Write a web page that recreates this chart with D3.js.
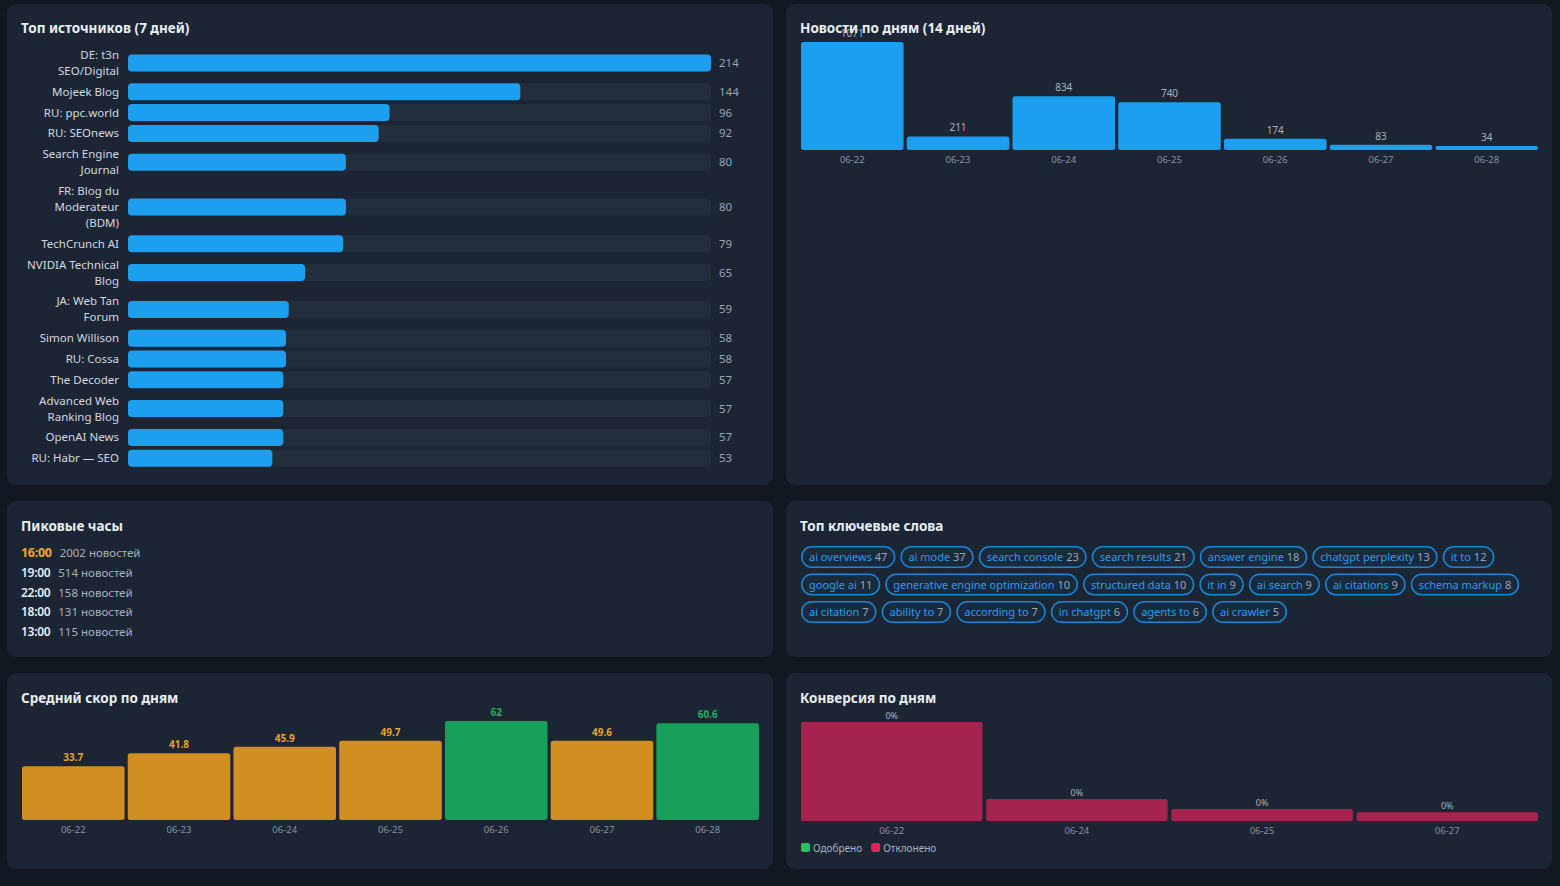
<!DOCTYPE html>
<head>
  <meta charset="utf-8">
  <script src="https://d3js.org/d3.v7.min.js"></script>
  <style>
    html, body { margin: 0; padding: 0; background: #111821; }
    body { font-family: 'Noto Sans', 'Open Sans', sans-serif; }
    svg text { font-family: 'Noto Sans', 'Open Sans', sans-serif; }
    .title { font-size: 13.5px; font-weight: 700; fill: #e8edf2; }
    .srcLabel { font-size: 11.5px; fill: #d3d9e0; }
    .srcValue { font-size: 11.5px; fill: #9ba6b2; }
    .axisLabel { font-size: 9.5px; fill: #8894a3; }
    .barValue { font-size: 10px; fill: #a9b3bf; }
  </style>
</head>

<body>
<div id="dash"></div>

<script>

///////////////////////////////////////////////////////////////////////////
//////////////////////////////// Data /////////////////////////////////////
///////////////////////////////////////////////////////////////////////////

// top sources, 7 days (line breaks as wrapped on the dashboard)
const sourceNames = [
  "DE: t3n\nSEO/Digital", "Mojeek Blog", "RU: ppc.world", "RU: SEOnews",
  "Search Engine\nJournal", "FR: Blog du\nModerateur\n(BDM)", "TechCrunch AI",
  "NVIDIA Technical\nBlog", "JA: Web Tan\nForum", "Simon Willison", "RU: Cossa",
  "The Decoder", "Advanced Web\nRanking Blog", "OpenAI News", "RU: Habr \u2014 SEO"
];
const sourceCounts = [214, 144, 96, 92, 80, 80, 79, 65, 59, 58, 58, 57, 57, 57, 53];

// news per day: printed labels, and the bar lengths as drawn
const newsDays = ["06-22", "06-23", "06-24", "06-25", "06-26", "06-27", "06-28"];
const newsCounts = [1071, 211, 834, 740, 174, 83, 34];
const newsBarValues = [1674, 211, 834, 740, 174, 83, 34];

// peak hours
const peakHours = ["16:00", "19:00", "22:00", "18:00", "13:00"];
const peakCounts = [2002, 514, 158, 131, 115];

// keywords
const keywords = [
  "ai overviews", "ai mode", "search console", "search results", "answer engine",
  "chatgpt perplexity", "it to", "google ai", "generative engine optimization",
  "structured data", "it in", "ai search", "ai citations", "schema markup",
  "ai citation", "ability to", "according to", "in chatgpt", "agents to", "ai crawler"
];
const keywordCounts = [47, 37, 23, 21, 18, 13, 12, 11, 10, 10, 9, 9, 9, 8, 7, 7, 7, 6, 6, 5];

// average score per day
const scoreDays = ["06-22", "06-23", "06-24", "06-25", "06-26", "06-27", "06-28"];
const scoreValues = [33.7, 41.8, 45.9, 49.7, 62, 49.6, 60.6];

// conversion per day
const convDays = ["06-22", "06-24", "06-25", "06-27"];
const convApproved = [0, 0, 0, 0];
const convRejected = [45, 10, 5.4, 4];

///////////////////////////////////////////////////////////////////////////
/////////////////////////////// Layout ////////////////////////////////////
///////////////////////////////////////////////////////////////////////////

const W = 1560, H = 886;
const blue = "#1d9ff0";

const svg = d3.select("#dash").append("svg")
  .attr("width", W).attr("height", H)
  .style("display", "block");

const panels = [
  {x: 7,   y: 4,   w: 766, h: 481, title: "Топ источников (7 дней)"},
  {x: 786, y: 4,   w: 766, h: 481, title: "Новости по дням (14 дней)"},
  {x: 7,   y: 501, w: 766, h: 156, title: "Пиковые часы"},
  {x: 786, y: 501, w: 766, h: 156, title: "Топ ключевые слова"},
  {x: 7,   y: 673, w: 766, h: 196, title: "Средний скор по дням"},
  {x: 786, y: 673, w: 766, h: 196, title: "Конверсия по дням"}
];

svg.selectAll(".panel")
  .data(panels)
  .enter().append("rect")
  .attr("class", "panel")
  .attr("x", d => d.x).attr("y", d => d.y)
  .attr("width", d => d.w).attr("height", d => d.h)
  .attr("rx", 9)
  .style("fill", "#1b2533");

// titles are drawn last so the tall first news bar label sits under it

///////////////////////////////////////////////////////////////////////////
///////////////////////// Top sources (bars) //////////////////////////////
///////////////////////////////////////////////////////////////////////////

const lineH = 16, rowGap = 4.8, barH = 17;
const trackX0 = 128, trackX1 = 711;

const srcRows = sourceNames.map((name, i) => ({
  lines: name.split("\n"),
  value: sourceCounts[i]
}));
let cursor = 47;
srcRows.forEach(r => {
  const h = r.lines.length * lineH;
  r.cy = cursor + h / 2;
  cursor += h + rowGap;
});

const xSrc = d3.scaleLinear()
  .domain([0, d3.max(sourceCounts)])
  .range([0, trackX1 - trackX0]);

const srcG = svg.append("g");
const srcRow = srcG.selectAll(".srcRow")
  .data(srcRows)
  .enter().append("g")
  .attr("class", "srcRow");

srcRow.append("rect")
  .attr("x", trackX0).attr("y", d => d.cy - barH / 2)
  .attr("width", trackX1 - trackX0).attr("height", barH)
  .attr("rx", 4)
  .style("fill", "#232e3c");

srcRow.append("rect")
  .attr("x", trackX0).attr("y", d => d.cy - barH / 2)
  .attr("width", d => xSrc(d.value)).attr("height", barH)
  .attr("rx", 4)
  .style("fill", blue);

srcRow.append("text")
  .attr("class", "srcLabel")
  .attr("text-anchor", "end")
  .attr("x", 119)
  .attr("y", d => d.cy - (d.lines.length - 1) * lineH / 2 + 4)
  .selectAll("tspan")
  .data(d => d.lines)
  .enter().append("tspan")
  .attr("x", 119)
  .attr("dy", (d, i) => i === 0 ? 0 : lineH)
  .text(d => d);

srcRow.append("text")
  .attr("class", "srcValue")
  .attr("x", 719)
  .attr("y", d => d.cy + 4)
  .text(d => d.value);

///////////////////////////////////////////////////////////////////////////
//////////////////////////// News per day /////////////////////////////////
///////////////////////////////////////////////////////////////////////////

const newsBase = 150;
const xNews = d3.scaleBand().domain(newsDays).range([801, 1538]).paddingInner(0.03);
const yNews = d3.scaleLinear().domain([0, d3.max(newsBarValues)]).range([newsBase, 42]);

const newsData = newsDays.map((d, i) => ({day: d, label: newsCounts[i], v: newsBarValues[i]}));
const newsG = svg.append("g");

newsG.selectAll("rect")
  .data(newsData)
  .enter().append("rect")
  .attr("x", d => xNews(d.day))
  .attr("y", d => Math.min(yNews(d.v), newsBase - 4))
  .attr("width", xNews.bandwidth())
  .attr("height", d => Math.max(newsBase - yNews(d.v), 4))
  .attr("rx", 2.5)
  .style("fill", blue);

newsG.selectAll(".barValue")
  .data(newsData)
  .enter().append("text")
  .attr("class", "barValue")
  .attr("text-anchor", "middle")
  .attr("x", d => xNews(d.day) + xNews.bandwidth() / 2)
  .attr("y", d => Math.min(yNews(d.v), newsBase - 4) - 5)
  .text(d => d.label);

newsG.selectAll(".axisLabel")
  .data(newsData)
  .enter().append("text")
  .attr("class", "axisLabel")
  .attr("text-anchor", "middle")
  .attr("x", d => xNews(d.day) + xNews.bandwidth() / 2)
  .attr("y", newsBase + 13)
  .text(d => d.day);

///////////////////////////////////////////////////////////////////////////
///////////////////////////// Peak hours //////////////////////////////////
///////////////////////////////////////////////////////////////////////////

const peakG = svg.append("g");
peakHours.forEach((h, i) => {
  const y = 557 + i * 19.8;
  const t = peakG.append("text")
    .attr("x", 21).attr("y", y)
    .style("font-size", i === 0 ? "12.5px" : "12px")
    .style("font-weight", i === 0 ? 700 : 600)
    .style("fill", i === 0 ? "#f5a623" : "#e8edf2")
    .style("letter-spacing", "-0.3px")
    .text(h);
  const tw = t.node().getComputedTextLength();
  peakG.append("text")
    .attr("x", 21 + tw + 8).attr("y", y)
    .style("font-size", "11.5px")
    .style("fill", "#a9b3bf")
    .text(peakCounts[i] + " новостей");
});

///////////////////////////////////////////////////////////////////////////
////////////////////////////// Keywords ///////////////////////////////////
///////////////////////////////////////////////////////////////////////////

const kwG = svg.append("g");
const kwX0 = 801, kwX1 = 1540, pillH = 22, pillGap = 5, pillPad = 8;
let kx = kwX0, ky = 546;
keywords.forEach((k, i) => {
  const g = kwG.append("g");
  const t = g.append("text").attr("y", pillH / 2 + 4).style("font-size", "11px");
  t.append("tspan").style("fill", "#2a9df0").text(k + " ");
  t.append("tspan").style("fill", "#9ba6b2").text(keywordCounts[i]);
  const tw = t.node().getComputedTextLength();
  const pw = tw + pillPad * 2;
  if (kx + pw > kwX1) { kx = kwX0; ky += 27.5; }
  g.insert("rect", "text")
    .attr("x", 0.75).attr("y", 0.75)
    .attr("width", pw - 1.5).attr("height", pillH - 1.5)
    .attr("rx", (pillH - 1.5) / 2)
    .style("fill", "#1a2a3d")
    .style("stroke", "#1a86d6")
    .style("stroke-width", 1.5);
  t.attr("x", pillPad);
  g.attr("transform", "translate(" + kx + "," + ky + ")");
  kx += pw + pillGap;
});

///////////////////////////////////////////////////////////////////////////
//////////////////////////// Average score ////////////////////////////////
///////////////////////////////////////////////////////////////////////////

const scoreBase = 820;
const xScore = d3.scaleBand().domain(scoreDays).range([22, 759]).paddingInner(0.03);
const yScore = d3.scaleLinear().domain([0, d3.max(scoreValues)]).range([scoreBase, 721]);
const scoreFill = v => v >= 60 ? "#17a05a" : "#d18f22";
const scoreText = v => v >= 60 ? "#1fb062" : "#eaa22a";

const scoreData = scoreDays.map((d, i) => ({day: d, v: scoreValues[i]}));
const scoreG = svg.append("g");

scoreG.selectAll("rect")
  .data(scoreData)
  .enter().append("rect")
  .attr("x", d => xScore(d.day))
  .attr("y", d => yScore(d.v))
  .attr("width", xScore.bandwidth())
  .attr("height", d => scoreBase - yScore(d.v))
  .attr("rx", 2.5)
  .style("fill", d => scoreFill(d.v));

scoreG.selectAll(".scoreValue")
  .data(scoreData)
  .enter().append("text")
  .attr("text-anchor", "middle")
  .attr("x", d => xScore(d.day) + xScore.bandwidth() / 2)
  .attr("y", d => yScore(d.v) - 5)
  .style("font-size", "10px")
  .style("font-weight", 700)
  .style("fill", d => scoreText(d.v))
  .text(d => d.v);

scoreG.selectAll(".axisLabel")
  .data(scoreData)
  .enter().append("text")
  .attr("class", "axisLabel")
  .attr("text-anchor", "middle")
  .attr("x", d => xScore(d.day) + xScore.bandwidth() / 2)
  .attr("y", scoreBase + 13)
  .text(d => d.day);

///////////////////////////////////////////////////////////////////////////
////////////////////////////// Conversion /////////////////////////////////
///////////////////////////////////////////////////////////////////////////

const convBase = 821;
const convData = convDays.map((d, i) => ({day: d, approved: convApproved[i], rejected: convRejected[i]}));
const stack = d3.stack().keys(["approved", "rejected"])(convData);
const xConv = d3.scaleBand().domain(convDays).range([801, 1538]).paddingInner(0.02);
const yConv = d3.scaleLinear()
  .domain([0, d3.max(convData, d => d.approved + d.rejected)])
  .range([convBase, 722]);
const convColors = {approved: "#22c55e", rejected: "#a5244f"};

const convG = svg.append("g");
convG.selectAll(".layer")
  .data(stack)
  .enter().append("g")
  .style("fill", d => convColors[d.key])
  .selectAll("rect")
  .data(d => d)
  .enter().append("rect")
  .attr("x", d => xConv(d.data.day))
  .attr("y", d => yConv(d[1]))
  .attr("width", xConv.bandwidth())
  .attr("height", d => yConv(d[0]) - yConv(d[1]))
  .attr("rx", 2);

convG.selectAll(".convValue")
  .data(convData)
  .enter().append("text")
  .attr("class", "barValue")
  .attr("text-anchor", "middle")
  .attr("x", d => xConv(d.day) + xConv.bandwidth() / 2)
  .attr("y", d => yConv(d.approved + d.rejected) - 3)
  .style("font-size", "9px")
  .text(d => Math.round(100 * d.approved / (d.approved + d.rejected)) + "%");

convG.selectAll(".axisLabel")
  .data(convData)
  .enter().append("text")
  .attr("class", "axisLabel")
  .attr("text-anchor", "middle")
  .attr("x", d => xConv(d.day) + xConv.bandwidth() / 2)
  .attr("y", convBase + 13)
  .text(d => d.day);

const legend = [
  {label: "Одобрено", color: "#22c55e"},
  {label: "Отклонено", color: "#e0245e"}
];
let lx = 801;
legend.forEach(l => {
  convG.append("rect")
    .attr("x", lx).attr("y", 843).attr("width", 9).attr("height", 9)
    .attr("rx", 2).style("fill", l.color);
  const t = convG.append("text")
    .attr("x", lx + 12).attr("y", 852)
    .style("font-size", "10px").style("fill", "#a9b3bf")
    .text(l.label);
  lx += 12 + t.node().getComputedTextLength() + 9;
});

///////////////////////////////////////////////////////////////////////////
////////////////////////////// Titles /////////////////////////////////////
///////////////////////////////////////////////////////////////////////////

svg.selectAll(".title")
  .data(panels)
  .enter().append("text")
  .attr("class", "title")
  .attr("x", d => d.x + 14)
  .attr("y", d => d.y + (d.h > 300 ? 29 : 30))
  .text(d => d.title);

</script>
</body>
